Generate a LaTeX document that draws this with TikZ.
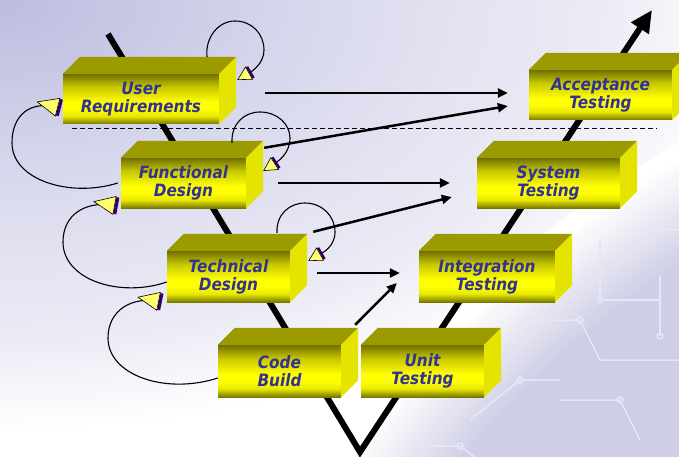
\documentclass[tikz,border=0pt]{standalone}
\usepackage{fontspec}
\usetikzlibrary{arrows.meta}
\newfontfamily\boxfont{DejaVu Sans Bold Oblique}[FakeStretch=0.9]
\definecolor{bgA}{RGB}{188,188,224}
\definecolor{bgB}{RGB}{218,218,238}
\definecolor{bgC}{RGB}{236,236,246}
\definecolor{globe}{RGB}{206,206,230}
\definecolor{fdkT}{RGB}{112,112,0}
\definecolor{fmid}{RGB}{200,200,0}
\definecolor{fyl}{RGB}{255,255,0}
\definecolor{fyl2}{RGB}{232,232,0}
\definecolor{fdkB}{RGB}{120,120,0}
\definecolor{topc}{RGB}{155,155,0}
\definecolor{sidec}{RGB}{228,228,0}
\definecolor{txtblue}{RGB}{50,50,150}
\definecolor{arryel}{RGB}{255,255,110}
\definecolor{arrpur}{RGB}{50,0,100}
\definecolor{trace}{RGB}{230,230,245}
\pgfdeclareverticalshading{boxfront}{100bp}{color(0bp)=(fdkB); color(25bp)=(fdkB); color(33bp)=(fyl2); color(40bp)=(fyl); color(47bp)=(fyl); color(62bp)=(fmid); color(75bp)=(fdkT); color(100bp)=(fdkT)}
\pgfdeclareradialshading{tlsh}{\pgfpoint{0bp}{0bp}}{color(0bp)=(bgA); color(11bp)=(bgB); color(20bp)=(bgC); color(25bp)=(white); color(50bp)=(white)}
\pgfdeclareradialshading{globesh}{\pgfpoint{0bp}{0bp}}{color(0bp)=(globe); color(22.5bp)=(globe); color(24.7bp)=(white); color(50bp)=(white)}
\tikzset{
  frontface/.style={shading=boxfront, inner sep=0pt, text=txtblue, align=center,
    font=\boxfont\fontsize{17}{18}\selectfont},
  topface/.style={fill=topc},
  sideface/.style={fill=sidec},
  vline/.style={line width=6pt, line join=miter, -{Triangle[length=22pt,width=20pt]}},
  flow/.style={line width=2.5pt, -{Triangle[length=10pt,width=9pt]}},
  dashline/.style={line width=1pt, dash pattern=on 5pt off 3pt},
  selfloop/.style={line width=1.1pt, -{Bar[width=13pt,line width=2.4pt,color=arrpur] Triangle[length=14pt,width=15pt,fill=arryel,line width=0.6pt]}},
  backloop/.style={line width=1.1pt, -{Triangle[reversed,length=22pt,width=19pt,fill=arryel,line width=0.6pt] Bar[width=17pt,line width=3pt,color=arrpur]}},
  tr/.style={draw=trace, line width=1.5pt}
}
\newcommand{\mybox}[6]{%
  \node[frontface, minimum width=#4pt, minimum height=#5pt] (#1) at (#2,#3) {#6};
  \fill[topface] (#1.north west) -- ++(17,17) -- ([shift={(17,17)}]#1.north east) -- (#1.north east) -- cycle;
  \fill[sideface] (#1.north east) -- ++(17,17) -- ([shift={(17,17)}]#1.south east) -- (#1.south east) -- cycle;
}
\begin{document}
\begin{tikzpicture}[x=1pt,y=1pt]
\useasboundingbox (0,0) rectangle (679,456);
\clip (0,0) rectangle (679,456);
% background
\fill[white] (0,0) rectangle (679,456);
\shade[shading=tlsh] (0,456) ellipse [x radius=760, y radius=430];
\shade[shading=globesh] (1197,-600) circle [radius=1050];
% faint circuit traces
\draw[tr] (600,216) -- (600,156) -- (660,156);
\draw[tr] (520,136) -- (580,136) -- (600,96) -- (679,96);
\draw[tr] (560,56) -- (620,56) -- (640,16);
\draw[tr] (640,226) -- (679,226);
\draw[tr] (470,36) -- (520,76) -- (560,76);
\draw[tr] (660,180) -- (660,120);
\draw[tr] (420,10) -- (460,10) -- (480,-5);
\foreach \p in {(600,156),(580,136),(620,56),(520,76),(660,120),(460,10)} \draw[tr] \p circle (3);
% V line
\coordinate (vA) at (108,422);
\coordinate (vB) at (360,4);
\coordinate (vC) at (652,446);
\draw[vline] (vA) -- (vB) -- (vC);
% dashed line
\coordinate (dL) at (72,328);
\coordinate (dR) at (657,328);
\draw[dashline] (dL) -- (dR);
% boxes
\mybox{UR}{141}{357}{156}{50}{User\\Requirements}
\mybox{FD}{183.5}{273}{125}{50}{Functional\\Design}
\mybox{TD}{228.5}{179.5}{123}{51}{Technical\\Design}
\mybox{CB}{279.5}{85}{123}{52}{Code\\Build}
\mybox{UT}{422.5}{85}{123}{52}{Unit\\Testing}
\mybox{IT}{487}{179.5}{136}{51}{Integration\\Testing}
\mybox{ST}{548.5}{273}{143}{50}{System\\Testing}
\mybox{AT}{600.5}{361}{143}{50}{Acceptance\\Testing}
% flow arrows
\draw[flow] ([shift={(46,6)}]UR.east) -- ([shift={(-21,2)}]AT.west);
\draw[flow] ([shift={(18,10)}]FD.north east) -- ([shift={(-21,-11)}]AT.west);
\draw[flow] ([shift={(32,0)}]FD.east) -- ([shift={(-27,0)}]ST.west);
\draw[flow] ([shift={(23,19)}]TD.north east) -- ([shift={(-25,-14)}]ST.west);
\draw[flow] ([shift={(27,3.5)}]TD.east) -- ([shift={(-19,3.5)}]IT.west);
\draw[flow] ([shift={(14,20)}]CB.north east) -- ([shift={(-22,-6.5)}]IT.west);
% self loops
\draw[selfloop] ([shift={(66,17)}]UR.north) .. controls (205,418) and (218,435) .. (235,435)
  .. controls (252,435) and (264,422) .. (264,406) .. controls (264,392) and (251,384) .. ([shift={(18,19)}]UR.east);
\draw[selfloop] ([shift={(48.5,15)}]FD.north) .. controls (231,332) and (244,344) .. (260,344)
  .. controls (277,344) and (290,332) .. (290,318) .. controls (290,302) and (277,294) .. ([shift={(17,12)}]FD.east);
\draw[selfloop] ([shift={(48.5,18)}]TD.north) .. controls (276,241) and (289,253) .. (305,253)
  .. controls (322,253) and (335,240) .. (335,224) .. controls (335,209) and (322,203) .. ([shift={(18,15.5)}]TD.east);
% back loops
\draw[backloop] ([shift={(-3,0)}]FD.west) .. controls (70,258) and (12,276) .. (12,313)
  .. controls (12,341) and (30,356) .. ([shift={(-2,-9)}]UR.west);
\draw[backloop] ([shift={(0,-5.5)}]TD.west) .. controls (120,158) and (63,176) .. (63,214)
  .. controls (63,241) and (85,256) .. ([shift={(-3,-23)}]FD.west);
\draw[backloop] ([shift={(0,-7)}]CB.west) .. controls (165,61) and (108,81) .. (108,118)
  .. controls (108,146) and (132,160) .. ([shift={(-5,-25.5)}]TD.west);
\end{tikzpicture}
\end{document}
